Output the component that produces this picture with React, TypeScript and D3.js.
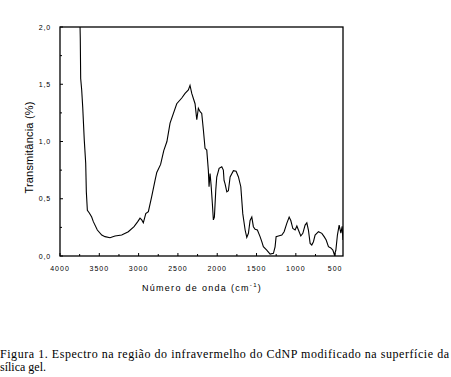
import React from "react";
import * as d3 from "d3";

const wavenumbers = [3745, 3742, 3737, 3724, 3711, 3691, 3673, 3665, 3652, 3627, 3597, 3576, 3525, 3469, 3427, 3364, 3300, 3215, 3131, 3058, 3011, 2982, 2960, 2940, 2909, 2876, 2833, 2791, 2769, 2720, 2680, 2640, 2600, 2515, 2451, 2409, 2367, 2346, 2324, 2282, 2260, 2240, 2218, 2197, 2176, 2155, 2133, 2113, 2104, 2091, 2078, 2062, 2049, 2036, 2018, 2006, 1976, 1942, 1922, 1913, 1900, 1878, 1858, 1836, 1794, 1760, 1730, 1700, 1675, 1645, 1624, 1603, 1582, 1560, 1540, 1518, 1489, 1455, 1433, 1413, 1370, 1327, 1285, 1264, 1251, 1222, 1178, 1149, 1115, 1085, 1064, 1038, 1009, 987, 967, 937, 911, 882, 860, 840, 818, 797, 776, 755, 712, 669, 640, 614, 585, 555, 529, 509, 491, 471, 449, 427, 411, 400];
const transmittance = [2.0, 1.9, 1.55, 1.45, 1.30, 1.01, 0.81, 0.56, 0.40, 0.375, 0.34, 0.30, 0.227, 0.183, 0.169, 0.16, 0.175, 0.183, 0.212, 0.256, 0.30, 0.33, 0.315, 0.29, 0.37, 0.387, 0.52, 0.66, 0.73, 0.80, 0.92, 1.0, 1.16, 1.33, 1.38, 1.42, 1.45, 1.49, 1.42, 1.33, 1.19, 1.29, 1.26, 1.245, 1.10, 0.94, 0.925, 0.75, 0.605, 0.72, 0.62, 0.46, 0.315, 0.34, 0.58, 0.69, 0.765, 0.78, 0.75, 0.66, 0.63, 0.56, 0.57, 0.69, 0.745, 0.74, 0.69, 0.605, 0.37, 0.227, 0.163, 0.198, 0.31, 0.34, 0.256, 0.233, 0.227, 0.169, 0.125, 0.081, 0.052, 0.017, 0.023, 0.08, 0.169, 0.175, 0.183, 0.212, 0.285, 0.34, 0.31, 0.24, 0.227, 0.262, 0.227, 0.175, 0.198, 0.27, 0.29, 0.227, 0.11, 0.096, 0.125, 0.183, 0.212, 0.198, 0.169, 0.14, 0.081, 0.07, 0.052, 0.009, 0.05, 0.183, 0.27, 0.2, 0.26, 0.14];

const xMajorTicks = [4000, 3500, 3000, 2500, 2000, 1500, 1000, 500];
const xMinorTicks = [3750, 3250, 2750, 2250, 1750, 1250, 750];
const yMajorTicks = [0, 0.5, 1.0, 1.5, 2.0];
const yMinorTicks = [0.25, 0.75, 1.25, 1.75];

const yLabel = "Transmitância (%)";
const xLabel = "Número de onda (cm";
const captionLine1 = "Figura 1. Espectro na região do infravermelho do CdNP modificado na superfície da";
const captionLine2 = "sílica gel.";

export default function App() {
  const left = 60, right = 343, top = 27, bottom = 256;
  const x = d3.scaleLinear().domain([4000, 400]).range([left, right]);
  const y = d3.scaleLinear().domain([0, 2]).range([bottom, top]);
  const pts = wavenumbers.map((w, i) => [w, transmittance[i]] as [number, number]);
  const line = d3.line<[number, number]>().x(d => x(d[0])).y(d => y(d[1]));
  const fmt = (v: number) => v.toFixed(1).replace(".", ",");
  const sans = "Liberation Sans, Arial, sans-serif";
  return (
    <svg width={451} height={377} style={{ position: "absolute", left: 0, top: 0, background: "#fff" }}>
      <rect x={0} y={0} width={451} height={377} fill="#fff" />
      <defs>
        <clipPath id="plotclip">
          <rect x={left} y={top} width={right - left} height={bottom - top} />
        </clipPath>
      </defs>
      <path d={line(pts) || ""} fill="none" stroke="#000" strokeWidth={1.1} clipPath="url(#plotclip)" />
      <rect x={left} y={top} width={right - left} height={bottom - top} fill="none" stroke="#000" strokeWidth={1.3} />
      {xMajorTicks.map(t => (
        <g key={"xm" + t}>
          <line x1={x(t)} x2={x(t)} y1={bottom} y2={bottom - 3} stroke="#000" />
          <text x={x(t)} y={271} fontSize={7} letterSpacing={1} textAnchor="middle" fontFamily={sans}>{t}</text>
        </g>
      ))}
      {xMinorTicks.map(t => (
        <line key={"xn" + t} x1={x(t)} x2={x(t)} y1={bottom} y2={bottom - 2} stroke="#000" />
      ))}
      {yMajorTicks.map(t => (
        <g key={"ym" + t}>
          <line x1={left} x2={left + 3} y1={y(t)} y2={y(t)} stroke="#000" />
          <text x={51} y={y(t) + 2.5} fontSize={7} letterSpacing={0.8} textAnchor="end" fontFamily={sans}>{fmt(t)}</text>
        </g>
      ))}
      {yMinorTicks.map(t => (
        <line key={"yn" + t} x1={left} x2={left + 2} y1={y(t)} y2={y(t)} stroke="#000" />
      ))}
      <text transform="translate(32.5,147.5) rotate(-90)" fontSize={11} letterSpacing={0.2} textAnchor="middle" fontFamily={sans}>{yLabel}</text>
      <text x={202} y={291} fontSize={9} letterSpacing={1.3} textAnchor="middle" fontFamily={sans}>
        {xLabel}
        <tspan fontSize={6} dy={-4}>-1</tspan>
        <tspan dy={4}>)</tspan>
      </text>
      <text x={0} y={358} fontSize={12} fontFamily="Liberation Serif, Times New Roman, serif" textLength={449} lengthAdjust="spacing">{captionLine1}</text>
      <text x={0} y={371} fontSize={12} fontFamily="Liberation Serif, Times New Roman, serif">{captionLine2}</text>
    </svg>
  );
}
